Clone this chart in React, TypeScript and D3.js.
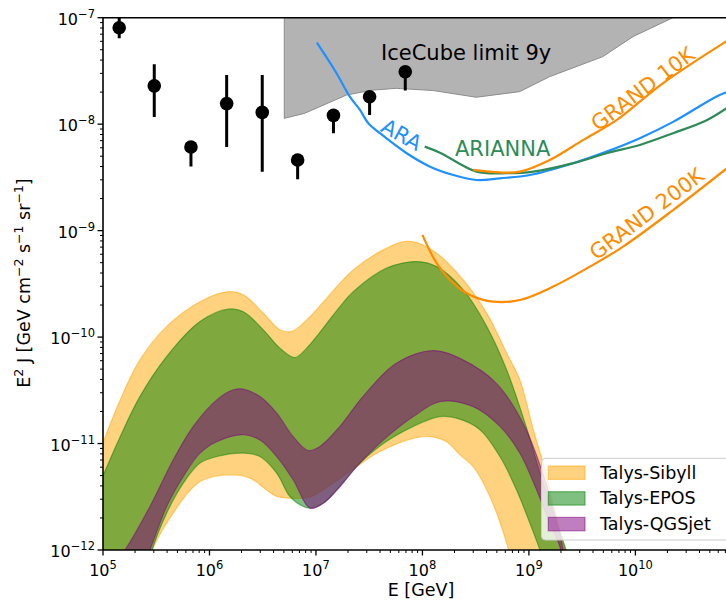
import React, { useEffect, useRef } from 'react';
import * as d3 from 'd3';

type Pt = [number, number];

// energy [GeV], flux E^2 J [GeV cm^-2 s^-1 sr^-1]
const sibyllUpper: Pt[] = [
    [1.0e5, 1.02e-11], [1.45e5, 2.57e-11], [2.22e5, 6.1e-11], [3.96e5, 1.26e-10], [8.15e5, 2.15e-10],
    [1.5e6, 2.67e-10], [2.08e6, 2.49e-10], [3.2e6, 1.68e-10], [4.59e6, 1.17e-10], [5.92e6, 1.13e-10],
    [8.18e6, 1.45e-10], [1.68e7, 3.21e-10], [2.24e7, 4.28e-10], [3.99e7, 6.35e-10], [6.61e7, 7.88e-10],
    [8.83e7, 7.71e-10], [1.36e8, 6.14e-10], [2.42e8, 3.44e-10], [4.01e8, 1.68e-10], [6.18e8, 7.06e-11],
    [8.22e8, 3.96e-11], [1.1e9, 1.35e-11], [1.36e9, 6.55e-12], [1.75e9, 2.38e-12], [2.32e9, 8.1e-13]
];
const sibyllLower: Pt[] = [
    [8.0e4, 1.0e-13], [2.22e5, 6.4e-13], [2.86e5, 1.0e-12], [3.96e5, 1.79e-12], [8.15e5, 4.4e-12], [1.56e6, 5.08e-12],
    [2.4e6, 4.73e-12], [3.44e6, 3.67e-12], [4.28e6, 3.18e-12], [5.7e6, 3.07e-12], [8.79e6, 3.14e-12],
    [1.45e7, 4.25e-12], [2.41e7, 6.08e-12], [3.99e7, 8.41e-12], [8.2e7, 1.12e-11], [1.18e8, 1.16e-11],
    [1.69e8, 1.04e-11], [2.25e8, 7.83e-12], [3.0e8, 6.08e-12], [4.3e8, 3.18e-12], [6.18e8, 1.16e-12],
    [6.92e8, 7.3e-13]
];
const eposUpper: Pt[] = [
    [1.0e5, 4.98e-12], [1.45e5, 1.16e-11], [2.22e5, 2.76e-11], [3.96e5, 6.56e-11], [8.15e5, 1.4e-10],
    [1.5e6, 1.83e-10], [2.08e6, 1.73e-10], [3.2e6, 1.17e-10], [4.59e6, 7.87e-11], [6.35e6, 6.42e-11],
    [8.18e6, 7.87e-11], [1.68e7, 1.93e-10], [2.24e7, 2.67e-10], [4.61e7, 4.44e-10], [8.83e7, 5.12e-10],
    [1.36e8, 4.59e-10], [2.42e8, 2.77e-10], [4.01e8, 1.26e-10], [6.18e8, 4.92e-11], [9.51e8, 1.4e-11],
    [1.27e9, 5.27e-12], [1.69e9, 2.22e-12], [2.18e9, 1.08e-12], [2.43e9, 7.3e-13]
];
const eposLower: Pt[] = [
    [8.0e4, 1.0e-13], [2.65e5, 6.5e-13], [2.97e5, 1.08e-12], [3.96e5, 2.22e-12], [5.68e5, 4.25e-12], [8.15e5, 6.55e-12],
    [1.17e6, 7.55e-12], [2.08e6, 8.13e-12], [2.98e6, 7.55e-12], [4.28e6, 5.27e-12], [5.7e6, 3.18e-12],
    [7.6e6, 2.56e-12], [8.79e6, 2.47e-12], [1.17e7, 2.75e-12], [1.68e7, 3.95e-12], [2.41e7, 6.08e-12],
    [3.99e7, 9.5e-12], [8.2e7, 1.45e-11], [1.46e8, 1.79e-11], [2.09e8, 1.73e-11], [3.47e8, 1.35e-11],
    [5.34e8, 7.55e-12], [7.66e8, 3.67e-12], [1.02e9, 1.79e-12], [1.27e9, 1.0e-12], [1.41e9, 7.3e-13]
];
const qgsjetUpper: Pt[] = [
    [1.24e5, 6.95e-13], [1.61e5, 1.0e-12], [2.76e5, 2.56e-12], [4.57e5, 7.03e-12], [7.05e5, 1.45e-11],
    [1.17e6, 2.57e-11], [1.67e6, 3.19e-11], [2.08e6, 3.24e-11], [2.98e6, 2.76e-11], [4.28e6, 1.93e-11],
    [6.12e6, 1.16e-11], [8.47e6, 8.6e-12], [1.09e7, 9.4e-12], [1.68e7, 1.45e-11], [2.76e7, 2.76e-11],
    [5.68e7, 5.69e-11], [1.26e8, 7.47e-11], [2.4e8, 6.11e-11], [4.93e8, 3.69e-11], [8.79e8, 1.56e-11],
    [1.35e9, 5.27e-12], [1.94e9, 1.45e-12], [2.22e9, 7.3e-13]
];
const qgsjetLower: Pt[] = [
    [2.32e5, 6.4e-13], [2.76e5, 1.0e-12], [3.96e5, 2.56e-12], [5.68e5, 4.9e-12], [8.15e5, 8.13e-12],
    [1.17e6, 1.04e-11], [2.08e6, 1.21e-11], [2.98e6, 1.08e-11], [4.28e6, 7.55e-12], [6.12e6, 4.56e-12],
    [8.79e6, 2.47e-12], [1.17e7, 2.75e-12], [1.68e7, 3.95e-12], [2.41e7, 6.08e-12], [3.99e7, 1.01e-11],
    [8.2e7, 1.79e-11], [1.46e8, 2.48e-11], [3.0e8, 2.22e-11], [5.34e8, 1.45e-11], [8.22e8, 8.13e-12],
    [1.18e9, 3.67e-12], [1.57e9, 1.79e-12], [1.95e9, 1.08e-12], [2.13e9, 7.3e-13]
];

const iceCubeEdge: Pt[] = [
    [5.04e6, 1.135e-8], [7.76e6, 1.26e-8], [1.94e7, 1.88e-8], [3.43e7, 2.09e-8], [5.68e7, 2.17e-8],
    [1.26e8, 2.07e-8], [3.2e8, 1.79e-8], [8.18e8, 2.02e-8], [1.56e9, 2.79e-8], [4.95e9, 4.31e-8],
    [9.48e9, 6.64e-8], [2.25e10, 1.0e-7], [4.0e10, 1.5e-7]
];
const ara: Pt[] = [
    [1.02e7, 5.82e-8], [1.56e7, 3.01e-8], [2.08e7, 1.81e-8], [2.59e7, 1.36e-8], [3.1e7, 1.02e-8],
    [3.99e7, 8.22e-9], [7.11e7, 5.33e-9], [1.18e8, 3.99e-9], [1.95e8, 3.33e-9], [3.23e8, 2.99e-9],
    [5.34e8, 3.1e-9], [1.02e9, 3.33e-9], [2.61e9, 4.3e-9], [5.37e9, 5.52e-9], [1.1e10, 7.38e-9],
    [2.26e10, 1.05e-8], [5.74e10, 1.81e-8], [7.71e10, 2.05e-8]
];
const arianna: Pt[] = [
    [1.05e8, 6.15e-9], [1.46e8, 5.4e-9], [3.23e8, 3.58e-9], [6.18e8, 3.46e-9], [1.1e9, 3.58e-9],
    [2.61e9, 4.3e-9], [5.37e9, 5.33e-9], [1.1e10, 6.38e-9], [2.26e10, 8.22e-9], [4.67e10, 1.09e-8],
    [7.71e10, 1.48e-8]
];
const grand10k: Pt[] = [
    [3.0e8, 3.72e-9], [5.34e8, 3.52e-9], [8.22e8, 3.58e-9], [1.57e9, 4.61e-9], [3.24e9, 7.11e-9],
    [6.65e9, 1.09e-8], [1.81e10, 2.42e-8], [7.71e10, 6.3e-8]
];
const grand200k: Pt[] = [
    [1.0e8, 9.12e-10], [1.36e8, 4.94e-10], [1.95e8, 3.21e-10], [2.79e8, 2.49e-10], [4.62e8, 2.15e-10],
    [8.22e8, 2.23e-10], [1.69e9, 2.98e-10], [3.74e9, 4.59e-10], [7.67e9, 7.08e-10], [2.26e10, 1.56e-9],
    [7.71e10, 4.05e-9]
];

// data points with asymmetric errors
const pointE = [1.42e5, 3.03e5, 6.7e5, 1.45e6, 3.13e6, 6.73e6, 1.46e7, 3.19e7, 6.9e7];
const pointJ = [8.05e-8, 2.29e-8, 6.1e-9, 1.56e-8, 1.29e-8, 4.6e-9, 1.21e-8, 1.81e-8, 3.11e-8];
const pointLo = [6.4e-8, 1.17e-8, 4.0e-9, 6.1e-9, 3.58e-9, 3.04e-9, 8.2e-9, 1.22e-8, 2.07e-8];
const pointHi = [1.2e-7, 3.65e-8, 6.1e-9, 2.9e-8, 2.9e-8, 4.6e-9, 1.21e-8, 1.81e-8, 3.11e-8];

const xTickExps = [5, 6, 7, 8, 9, 10];
const yTickExps = [-12, -11, -10, -9, -8, -7];
const legendLabels = ['Talys-Sibyll', 'Talys-EPOS', 'Talys-QGSjet'];
const legendColors = ['#ffa500', '#008000', '#800080'];

const FONT = 'DejaVu Sans, sans-serif';

const App = () => {
    const svgRef = useRef<SVGSVGElement>(null);

    useEffect(() => {
        if (!svgRef.current) return;
        const W = 726, H = 606;
        const left = 103, right = 739.5, top = 17.7, bottom = 550;

        const svg = d3.select(svgRef.current).attr('width', W).attr('height', H);
        svg.selectAll('*').remove();

        const x = d3.scaleLog().domain([1e5, 9.5e10]).range([left, right]);
        const y = d3.scaleLog().domain([1e-12, 1e-7]).range([bottom, top]);

        svg.append('defs').append('clipPath').attr('id', 'plotClip')
            .append('rect').attr('x', left).attr('y', top)
            .attr('width', right - left).attr('height', bottom - top);

        const plot = svg.append('g').attr('clip-path', 'url(#plotClip)');

        const linear = d3.line<Pt>().x(d => x(d[0])).y(d => y(d[1]));
        const smooth = d3.line<Pt>().x(d => x(d[0])).y(d => y(d[1])).curve(d3.curveCatmullRom.alpha(0.5));

        // IceCube excluded region
        const icePoly: Pt[] = [[iceCubeEdge[0][0], 1e-6], ...iceCubeEdge, [iceCubeEdge[iceCubeEdge.length - 1][0], 1e-6]];
        plot.append('path')
            .attr('d', linear(icePoly) + 'Z')
            .attr('fill', '#b3b3b3')
            .attr('stroke', '#8c8c8c')
            .attr('stroke-width', 1);

        // model bands
        const bands = [
            { upper: sibyllUpper, lower: sibyllLower, color: legendColors[0] },
            { upper: eposUpper, lower: eposLower, color: legendColors[1] },
            { upper: qgsjetUpper, lower: qgsjetLower, color: legendColors[2] }
        ];
        bands.forEach(b => {
            const a = smooth(b.upper) as string;
            const c = smooth([...b.lower].reverse()) as string;
            plot.append('path')
                .attr('d', a + 'L' + c.slice(1) + 'Z')
                .attr('fill', b.color)
                .attr('fill-opacity', 0.5)
                .attr('stroke', b.color)
                .attr('stroke-opacity', 0.5)
                .attr('stroke-width', 1.2);
        });

        // sensitivity curves
        const curves = [
            { data: ara, color: '#1e90ff' },
            { data: arianna, color: '#2e8b57' },
            { data: grand10k, color: '#ff8c00' },
            { data: grand200k, color: '#ff8c00' }
        ];
        curves.forEach(cv => {
            plot.append('path')
                .attr('d', smooth(cv.data))
                .attr('fill', 'none')
                .attr('stroke', cv.color)
                .attr('stroke-width', 2.2);
        });

        // data points
        const pts = plot.append('g');
        pointE.forEach((e, i) => {
            pts.append('line')
                .attr('x1', x(e)).attr('x2', x(e))
                .attr('y1', y(pointLo[i])).attr('y2', y(pointHi[i]))
                .attr('stroke', 'black').attr('stroke-width', 3);
            pts.append('circle')
                .attr('cx', x(e)).attr('cy', y(pointJ[i]))
                .attr('r', 6.8).attr('fill', 'black');
        });

        // axes
        const axes = svg.append('g').attr('stroke', 'black');
        axes.append('line').attr('x1', left).attr('x2', W).attr('y1', bottom).attr('y2', bottom).attr('stroke-width', 1.6);
        axes.append('line').attr('x1', left).attr('x2', W).attr('y1', top).attr('y2', top).attr('stroke-width', 1.6);
        axes.append('line').attr('x1', left).attr('x2', left).attr('y1', top).attr('y2', bottom).attr('stroke-width', 1.6);

        xTickExps.forEach(p => {
            const e = Math.pow(10, p);
            axes.append('line').attr('x1', x(e)).attr('x2', x(e)).attr('y1', bottom).attr('y2', bottom + 5.5).attr('stroke-width', 1.3);
            for (let k = 2; k <= 9; k++) {
                const v = k * e;
                if (v > 9.5e10) break;
                axes.append('line').attr('x1', x(v)).attr('x2', x(v)).attr('y1', bottom).attr('y2', bottom + 3).attr('stroke-width', 1);
            }
            const t = svg.append('text')
                .attr('x', x(e)).attr('y', 576)
                .attr('text-anchor', 'middle')
                .attr('font-family', FONT).attr('font-size', 16);
            t.append('tspan').text('10');
            t.append('tspan').attr('dy', -7).attr('font-size', 11.5).text(String(p));
        });

        yTickExps.forEach(p => {
            const v0 = Math.pow(10, p);
            axes.append('line').attr('x1', left - 5.5).attr('x2', left).attr('y1', y(v0)).attr('y2', y(v0)).attr('stroke-width', 1.3);
            if (p < -7) {
                for (let k = 2; k <= 9; k++) {
                    axes.append('line').attr('x1', left - 3).attr('x2', left)
                        .attr('y1', y(k * v0)).attr('y2', y(k * v0)).attr('stroke-width', 1);
                }
            }
            const t = svg.append('text')
                .attr('x', 95).attr('y', y(v0) + 7)
                .attr('text-anchor', 'end')
                .attr('font-family', FONT).attr('font-size', 16);
            t.append('tspan').text('10');
            t.append('tspan').attr('dy', -7).attr('font-size', 11.5).text('\u2212' + Math.abs(p));
        });

        // axis labels
        svg.append('text')
            .attr('x', 421).attr('y', 596)
            .attr('text-anchor', 'middle')
            .attr('font-family', FONT).attr('font-size', 17.5)
            .text('E [GeV]');

        const yl = svg.append('text')
            .attr('transform', 'translate(30,283) rotate(-90)')
            .attr('text-anchor', 'middle')
            .attr('font-family', FONT).attr('font-size', 17.5);
        const sup = (s: string) => yl.append('tspan').attr('dy', -7).attr('font-size', 12.5).text(s);
        const base = (s: string) => yl.append('tspan').attr('dy', 7).text(s);
        yl.append('tspan').text('E');
        sup('2');
        base(' J [GeV cm');
        sup('\u22122');
        base(' s');
        sup('\u22121');
        base(' sr');
        sup('\u22121');
        base(']');

        // annotations
        svg.append('text').attr('x', 381).attr('y', 60)
            .attr('font-family', FONT).attr('font-size', 21).attr('fill', 'black')
            .text('IceCube limit 9y');
        svg.append('text').attr('x', 455).attr('y', 156)
            .attr('font-family', FONT).attr('font-size', 21).attr('fill', '#2e8b57')
            .text('ARIANNA');
        const rotated = [
            { text: 'ARA', cx: 401.5, cy: 135, angle: 29, color: '#1e90ff' },
            { text: 'GRAND 10K', cx: 643, cy: 89, angle: -37, color: '#ff8c00' },
            { text: 'GRAND 200K', cx: 647, cy: 214, angle: -37, color: '#ff8c00' }
        ];
        rotated.forEach(r => {
            svg.append('text')
                .attr('transform', `translate(${r.cx},${r.cy}) rotate(${r.angle})`)
                .attr('text-anchor', 'middle')
                .attr('dominant-baseline', 'central')
                .attr('font-family', FONT).attr('font-size', 21)
                .attr('fill', r.color)
                .text(r.text);
        });

        // legend
        const lg = svg.append('g');
        lg.append('rect')
            .attr('x', 541.5).attr('y', 458.3)
            .attr('width', 200).attr('height', 81.7)
            .attr('rx', 4)
            .attr('fill', 'white').attr('fill-opacity', 0.8)
            .attr('stroke', '#cccccc').attr('stroke-width', 1);
        legendLabels.forEach((lab, i) => {
            const cy = 472.7 + i * 25.7;
            lg.append('rect')
                .attr('x', 548.3).attr('y', cy - 6.7)
                .attr('width', 36.7).attr('height', 13.4)
                .attr('fill', legendColors[i]).attr('fill-opacity', 0.5)
                .attr('stroke', legendColors[i]).attr('stroke-opacity', 0.5)
                .attr('stroke-width', 1.2);
            lg.append('text')
                .attr('x', 600).attr('y', cy)
                .attr('dominant-baseline', 'central')
                .attr('font-family', FONT).attr('font-size', 17.5)
                .text(lab);
        });
    }, []);

    return (
        <svg ref={svgRef} style={{ position: 'absolute', left: 0, top: 0, background: 'white' }}></svg>
    );
};

export default App;
